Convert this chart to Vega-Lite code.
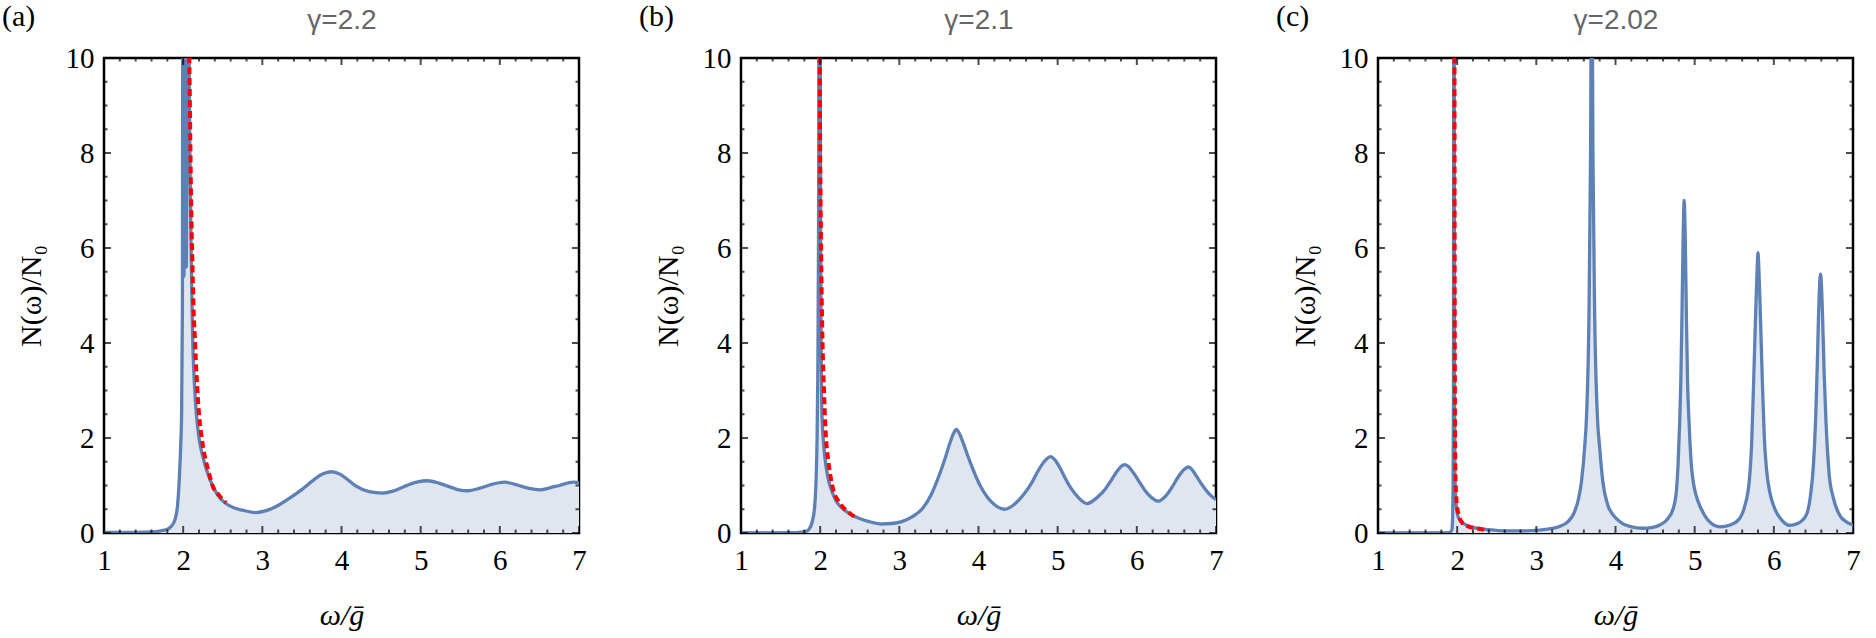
{
  "$schema": "https://vega.github.io/schema/vega-lite/v6.json",
  "background": "white",
  "padding": {"left": 0, "top": 0, "right": 10, "bottom": 0},
  "spacing": 162,
  "bounds": "flush",
  "config": {
    "view": {"stroke": "black", "strokeWidth": 2.5},
    "axis": {
      "domain": false,
      "grid": false,
      "ticks": true,
      "tickOpacity": 0,
      "offset": -7,
      "tickSize": 7,
      "labelFont": "Liberation Serif",
      "labelFontSize": 29,
      "labelColor": "black",
      "labelFlush": false,
      "labelOverlap": false,
      "titleFont": "Liberation Serif",
      "titleFontSize": 30,
      "titleFontWeight": "normal",
      "titleColor": "black"
    },
    "tick": {"color": "black", "thickness": 2, "clip": false},
    "title": {"font": "Liberation Serif", "fontSize": 30, "fontWeight": "normal", "color": "black", "anchor": "start", "frame": "group", "dx": -102, "dy": 30}
  },
  "datasets": {
    "xMaj": [{"t": 1}, {"t": 2}, {"t": 3}, {"t": 4}, {"t": 5}, {"t": 6}, {"t": 7}],
    "xMin": [
      {"t": 1.2}, {"t": 1.4}, {"t": 1.6}, {"t": 1.8}, {"t": 2.2}, {"t": 2.4}, {"t": 2.6}, {"t": 2.8},
      {"t": 3.2}, {"t": 3.4}, {"t": 3.6}, {"t": 3.8}, {"t": 4.2}, {"t": 4.4}, {"t": 4.6}, {"t": 4.8},
      {"t": 5.2}, {"t": 5.4}, {"t": 5.6}, {"t": 5.8}, {"t": 6.2}, {"t": 6.4}, {"t": 6.6}, {"t": 6.8}
    ],
    "yMaj": [{"t": 0}, {"t": 2}, {"t": 4}, {"t": 6}, {"t": 8}, {"t": 10}],
    "yMin": [
      {"t": 0.5}, {"t": 1}, {"t": 1.5}, {"t": 2.5}, {"t": 3}, {"t": 3.5}, {"t": 4.5}, {"t": 5},
      {"t": 5.5}, {"t": 6.5}, {"t": 7}, {"t": 7.5}, {"t": 8.5}, {"t": 9}, {"t": 9.5}
    ],
    "aBlue": [
      {"w": 1.0, "n": 0.01}, {"w": 1.3, "n": 0.012}, {"w": 1.5, "n": 0.018}, {"w": 1.6, "n": 0.024}, {"w": 1.7, "n": 0.04},
      {"w": 1.75, "n": 0.055}, {"w": 1.8, "n": 0.08}, {"w": 1.85, "n": 0.14}, {"w": 1.9, "n": 0.3}, {"w": 1.93, "n": 0.6},
      {"w": 1.95, "n": 1.1}, {"w": 1.97, "n": 1.9}, {"w": 1.98, "n": 2.5}, {"w": 1.99, "n": 4.6}, {"w": 1.995, "n": 10.5},
      {"w": 2.01, "n": 5.4}, {"w": 2.025, "n": 10.5}, {"w": 2.04, "n": 5.6}, {"w": 2.055, "n": 10.5}, {"w": 2.07, "n": 10.5},
      {"w": 2.085, "n": 8}, {"w": 2.1, "n": 6}, {"w": 2.11, "n": 5.0}, {"w": 2.12, "n": 4.1}, {"w": 2.14, "n": 3.2},
      {"w": 2.17, "n": 2.45}, {"w": 2.2, "n": 2.0}, {"w": 2.25, "n": 1.6}, {"w": 2.29, "n": 1.36}, {"w": 2.35, "n": 1.08},
      {"w": 2.41, "n": 0.87}, {"w": 2.47, "n": 0.73}, {"w": 2.54, "n": 0.62}, {"w": 2.64, "n": 0.53}, {"w": 2.75, "n": 0.48},
      {"w": 2.92, "n": 0.43}, {"w": 3.05, "n": 0.47}, {"w": 3.21, "n": 0.59}, {"w": 3.35, "n": 0.74}, {"w": 3.51, "n": 0.93},
      {"w": 3.65, "n": 1.12}, {"w": 3.76, "n": 1.24}, {"w": 3.87, "n": 1.29}, {"w": 3.98, "n": 1.24}, {"w": 4.08, "n": 1.12},
      {"w": 4.18, "n": 0.99}, {"w": 4.35, "n": 0.87}, {"w": 4.52, "n": 0.84}, {"w": 4.65, "n": 0.88}, {"w": 4.78, "n": 0.97},
      {"w": 4.95, "n": 1.07}, {"w": 5.09, "n": 1.1}, {"w": 5.23, "n": 1.05}, {"w": 5.37, "n": 0.97}, {"w": 5.48, "n": 0.91},
      {"w": 5.6, "n": 0.89}, {"w": 5.74, "n": 0.94}, {"w": 5.87, "n": 1.01}, {"w": 6.06, "n": 1.07}, {"w": 6.18, "n": 1.03},
      {"w": 6.3, "n": 0.97}, {"w": 6.51, "n": 0.91}, {"w": 6.63, "n": 0.95}, {"w": 6.75, "n": 1.0}, {"w": 6.93, "n": 1.07},
      {"w": 7.0, "n": 1.06}
    ],
    "aRed": [
      {"w": 2.073, "n": 10.5}, {"w": 2.085, "n": 9}, {"w": 2.1, "n": 7}, {"w": 2.115, "n": 5.8}, {"w": 2.13, "n": 4.8},
      {"w": 2.15, "n": 4.0}, {"w": 2.17, "n": 3.3}, {"w": 2.2, "n": 2.5}, {"w": 2.235, "n": 2.0}, {"w": 2.27, "n": 1.64},
      {"w": 2.32, "n": 1.3}, {"w": 2.37, "n": 1.0}, {"w": 2.45, "n": 0.8}, {"w": 2.54, "n": 0.64}
    ],
    "bBlue": [
      {"w": 1.0, "n": 0.0}, {"w": 1.4, "n": 0.003}, {"w": 1.6, "n": 0.006}, {"w": 1.7, "n": 0.01}, {"w": 1.81, "n": 0.03},
      {"w": 1.86, "n": 0.08}, {"w": 1.9, "n": 0.24}, {"w": 1.93, "n": 0.55}, {"w": 1.95, "n": 1.2}, {"w": 1.96, "n": 1.9},
      {"w": 1.97, "n": 3.3}, {"w": 1.98, "n": 6.5}, {"w": 1.985, "n": 10.5}, {"w": 2.0, "n": 10.5}, {"w": 2.005, "n": 6.5},
      {"w": 2.012, "n": 4.0}, {"w": 2.02, "n": 2.63}, {"w": 2.04, "n": 1.95}, {"w": 2.06, "n": 1.58}, {"w": 2.1, "n": 1.15},
      {"w": 2.15, "n": 0.87}, {"w": 2.2, "n": 0.68}, {"w": 2.28, "n": 0.52}, {"w": 2.38, "n": 0.4}, {"w": 2.49, "n": 0.31},
      {"w": 2.62, "n": 0.24}, {"w": 2.78, "n": 0.19}, {"w": 2.9, "n": 0.2}, {"w": 3.03, "n": 0.24}, {"w": 3.15, "n": 0.33},
      {"w": 3.3, "n": 0.53}, {"w": 3.4, "n": 0.8}, {"w": 3.5, "n": 1.2}, {"w": 3.58, "n": 1.58}, {"w": 3.64, "n": 1.9},
      {"w": 3.68, "n": 2.08}, {"w": 3.72, "n": 2.18}, {"w": 3.76, "n": 2.09}, {"w": 3.81, "n": 1.88}, {"w": 3.87, "n": 1.6},
      {"w": 3.94, "n": 1.3}, {"w": 4.02, "n": 1.0}, {"w": 4.11, "n": 0.76}, {"w": 4.2, "n": 0.6}, {"w": 4.33, "n": 0.5},
      {"w": 4.45, "n": 0.6}, {"w": 4.57, "n": 0.81}, {"w": 4.67, "n": 1.05}, {"w": 4.75, "n": 1.3}, {"w": 4.81, "n": 1.46},
      {"w": 4.86, "n": 1.56}, {"w": 4.91, "n": 1.61}, {"w": 4.96, "n": 1.55}, {"w": 5.02, "n": 1.4}, {"w": 5.09, "n": 1.17},
      {"w": 5.17, "n": 0.94}, {"w": 5.26, "n": 0.75}, {"w": 5.37, "n": 0.62}, {"w": 5.5, "n": 0.75}, {"w": 5.6, "n": 0.92},
      {"w": 5.68, "n": 1.12}, {"w": 5.75, "n": 1.3}, {"w": 5.8, "n": 1.4}, {"w": 5.85, "n": 1.44}, {"w": 5.9, "n": 1.39},
      {"w": 5.96, "n": 1.26}, {"w": 6.03, "n": 1.08}, {"w": 6.11, "n": 0.88}, {"w": 6.19, "n": 0.74}, {"w": 6.27, "n": 0.67},
      {"w": 6.36, "n": 0.77}, {"w": 6.45, "n": 0.98}, {"w": 6.53, "n": 1.2}, {"w": 6.6, "n": 1.34}, {"w": 6.65, "n": 1.39},
      {"w": 6.7, "n": 1.33}, {"w": 6.76, "n": 1.18}, {"w": 6.83, "n": 1.0}, {"w": 6.91, "n": 0.83}, {"w": 7.0, "n": 0.7}
    ],
    "bRed": [
      {"w": 1.993, "n": 10.5}, {"w": 2.0, "n": 8}, {"w": 2.01, "n": 6.2}, {"w": 2.02, "n": 4.9}, {"w": 2.03, "n": 4.0},
      {"w": 2.05, "n": 2.9}, {"w": 2.07, "n": 2.1}, {"w": 2.1, "n": 1.55}, {"w": 2.13, "n": 1.2}, {"w": 2.17, "n": 0.88},
      {"w": 2.22, "n": 0.7}, {"w": 2.28, "n": 0.56}, {"w": 2.37, "n": 0.42}, {"w": 2.47, "n": 0.3}
    ],
    "cBlue": [
      {"w": 1.0, "n": 0.0}, {"w": 1.8, "n": 0.002}, {"w": 1.9, "n": 0.01}, {"w": 1.93, "n": 0.05}, {"w": 1.94, "n": 0.2},
      {"w": 1.948, "n": 1.0}, {"w": 1.953, "n": 3}, {"w": 1.957, "n": 10.5}, {"w": 1.963, "n": 10.5}, {"w": 1.967, "n": 3},
      {"w": 1.972, "n": 1.2}, {"w": 1.98, "n": 0.75}, {"w": 1.99, "n": 0.55}, {"w": 2.0, "n": 0.42}, {"w": 2.03, "n": 0.28},
      {"w": 2.08, "n": 0.2}, {"w": 2.2, "n": 0.12}, {"w": 2.4, "n": 0.07}, {"w": 2.62, "n": 0.045}, {"w": 2.85, "n": 0.045},
      {"w": 3.04, "n": 0.06}, {"w": 3.18, "n": 0.09}, {"w": 3.3, "n": 0.14}, {"w": 3.4, "n": 0.24}, {"w": 3.47, "n": 0.4},
      {"w": 3.53, "n": 0.7}, {"w": 3.57, "n": 1.08}, {"w": 3.61, "n": 1.8}, {"w": 3.635, "n": 2.5}, {"w": 3.665, "n": 4.6},
      {"w": 3.685, "n": 8}, {"w": 3.7, "n": 13}, {"w": 3.715, "n": 8}, {"w": 3.737, "n": 4.6}, {"w": 3.77, "n": 2.5},
      {"w": 3.8, "n": 1.8}, {"w": 3.84, "n": 1.08}, {"w": 3.9, "n": 0.6}, {"w": 3.97, "n": 0.38}, {"w": 4.07, "n": 0.22},
      {"w": 4.18, "n": 0.14}, {"w": 4.35, "n": 0.1}, {"w": 4.47, "n": 0.12}, {"w": 4.56, "n": 0.17}, {"w": 4.65, "n": 0.28},
      {"w": 4.73, "n": 0.52}, {"w": 4.77, "n": 0.9}, {"w": 4.79, "n": 1.43}, {"w": 4.81, "n": 2.3}, {"w": 4.825, "n": 3.19},
      {"w": 4.84, "n": 4.6}, {"w": 4.855, "n": 6.3}, {"w": 4.867, "n": 7.0}, {"w": 4.88, "n": 6.3}, {"w": 4.895, "n": 4.6},
      {"w": 4.91, "n": 3.19}, {"w": 4.93, "n": 2.3}, {"w": 4.955, "n": 1.5}, {"w": 4.98, "n": 1.1}, {"w": 5.02, "n": 0.78},
      {"w": 5.08, "n": 0.52}, {"w": 5.18, "n": 0.25}, {"w": 5.32, "n": 0.13}, {"w": 5.45, "n": 0.17}, {"w": 5.57, "n": 0.31},
      {"w": 5.63, "n": 0.55}, {"w": 5.69, "n": 1.1}, {"w": 5.72, "n": 1.9}, {"w": 5.745, "n": 3.19}, {"w": 5.77, "n": 4.6},
      {"w": 5.79, "n": 5.6}, {"w": 5.8, "n": 5.9}, {"w": 5.81, "n": 5.6}, {"w": 5.83, "n": 4.6}, {"w": 5.855, "n": 3.19},
      {"w": 5.88, "n": 2.0}, {"w": 5.91, "n": 1.3}, {"w": 5.95, "n": 0.85}, {"w": 6.01, "n": 0.52}, {"w": 6.1, "n": 0.27},
      {"w": 6.2, "n": 0.16}, {"w": 6.3, "n": 0.2}, {"w": 6.41, "n": 0.38}, {"w": 6.46, "n": 0.75}, {"w": 6.5, "n": 1.43},
      {"w": 6.53, "n": 2.5}, {"w": 6.55, "n": 3.6}, {"w": 6.565, "n": 4.6}, {"w": 6.59, "n": 5.45}, {"w": 6.615, "n": 4.6},
      {"w": 6.635, "n": 3.4}, {"w": 6.66, "n": 2.3}, {"w": 6.7, "n": 1.22}, {"w": 6.75, "n": 0.75}, {"w": 6.83, "n": 0.38},
      {"w": 6.92, "n": 0.23}, {"w": 7.0, "n": 0.17}
    ],
    "cRed": [
      {"w": 1.966, "n": 10.5}, {"w": 1.968, "n": 6}, {"w": 1.971, "n": 3}, {"w": 1.975, "n": 1.5}, {"w": 1.985, "n": 0.85},
      {"w": 1.995, "n": 0.62}, {"w": 2.02, "n": 0.38}, {"w": 2.07, "n": 0.2}, {"w": 2.15, "n": 0.13}, {"w": 2.24, "n": 0.1},
      {"w": 2.39, "n": 0.05}
    ]
  },
  "hconcat": [
    {
      "width": 475, "height": 475,
      "title": {"text": "(a)"},
      "resolve": {"axis": {"x": "independent", "y": "independent"}},
      "layer": [
        {
          "data": {"name": "aBlue"},
          "mark": {"type": "area", "color": "#dfe6f0", "interpolate": "monotone", "clip": true},
          "encoding": {
            "x": {"field": "w", "type": "quantitative", "scale": {"domain": [1, 7], "nice": false, "zero": false},
              "axis": {"orient": "bottom", "values": [1, 2, 3, 4, 5, 6, 7], "labelPadding": 13, "title": "ω/ḡ", "titleFontStyle": "italic", "titlePadding": 25}},
            "y": {"field": "n", "type": "quantitative", "scale": {"domain": [0, 10], "nice": false},
              "axis": {"orient": "left", "values": [0, 2, 4, 6, 8, 10], "labelPadding": 10, "title": "N(ω)/N₀", "titlePadding": 19}}
          }
        },
        {
          "data": {"name": "aBlue"},
          "mark": {"type": "line", "color": "#5e81b5", "strokeWidth": 3.3, "interpolate": "monotone", "clip": true},
          "encoding": {
            "x": {"field": "w", "type": "quantitative", "axis": {"orient": "top", "values": [1, 7], "labels": false, "title": "γ=2.2", "titleFont": "Liberation Sans", "titleFontSize": 28, "titleColor": "#666666", "titlePadding": 24}},
            "y": {"field": "n", "type": "quantitative", "axis": null}
          }
        },
        {
          "data": {"name": "aRed"},
          "mark": {"type": "line", "color": "#ff0000", "strokeWidth": 4, "strokeDash": [7, 4], "interpolate": "monotone", "clip": true},
          "encoding": {"x": {"field": "w", "type": "quantitative", "axis": null}, "y": {"field": "n", "type": "quantitative", "axis": null}}
        },
        {"data": {"name": "xMaj"}, "mark": {"type": "tick", "orient": "vertical", "size": 7, "yOffset": -3.5},
          "encoding": {"x": {"field": "t", "type": "quantitative", "axis": null}, "y": {"datum": 0, "type": "quantitative", "axis": null}}},
        {"data": {"name": "xMin"}, "mark": {"type": "tick", "orient": "vertical", "size": 3.5, "yOffset": -1.75},
          "encoding": {"x": {"field": "t", "type": "quantitative", "axis": null}, "y": {"datum": 0, "type": "quantitative", "axis": null}}},
        {"data": {"name": "xMaj"}, "mark": {"type": "tick", "orient": "vertical", "size": 7, "yOffset": 3.5},
          "encoding": {"x": {"field": "t", "type": "quantitative", "axis": null}, "y": {"datum": 10, "type": "quantitative", "axis": null}}},
        {"data": {"name": "xMin"}, "mark": {"type": "tick", "orient": "vertical", "size": 3.5, "yOffset": 1.75},
          "encoding": {"x": {"field": "t", "type": "quantitative", "axis": null}, "y": {"datum": 10, "type": "quantitative", "axis": null}}},
        {"data": {"name": "yMaj"}, "mark": {"type": "tick", "orient": "horizontal", "size": 7, "xOffset": 3.5},
          "encoding": {"y": {"field": "t", "type": "quantitative", "axis": null}, "x": {"datum": 1, "type": "quantitative", "axis": null}}},
        {"data": {"name": "yMin"}, "mark": {"type": "tick", "orient": "horizontal", "size": 3.5, "xOffset": 1.75},
          "encoding": {"y": {"field": "t", "type": "quantitative", "axis": null}, "x": {"datum": 1, "type": "quantitative", "axis": null}}},
        {"data": {"name": "yMaj"}, "mark": {"type": "tick", "orient": "horizontal", "size": 7, "xOffset": -3.5},
          "encoding": {"y": {"field": "t", "type": "quantitative", "axis": null}, "x": {"datum": 7, "type": "quantitative", "axis": null}}},
        {"data": {"name": "yMin"}, "mark": {"type": "tick", "orient": "horizontal", "size": 3.5, "xOffset": -1.75},
          "encoding": {"y": {"field": "t", "type": "quantitative", "axis": null}, "x": {"datum": 7, "type": "quantitative", "axis": null}}}
      ]
    },
    {
      "width": 475, "height": 475,
      "title": {"text": "(b)"},
      "resolve": {"axis": {"x": "independent", "y": "independent"}},
      "layer": [
        {
          "data": {"name": "bBlue"},
          "mark": {"type": "area", "color": "#dfe6f0", "interpolate": "monotone", "clip": true},
          "encoding": {
            "x": {"field": "w", "type": "quantitative", "scale": {"domain": [1, 7], "nice": false, "zero": false},
              "axis": {"orient": "bottom", "values": [1, 2, 3, 4, 5, 6, 7], "labelPadding": 13, "title": "ω/ḡ", "titleFontStyle": "italic", "titlePadding": 25}},
            "y": {"field": "n", "type": "quantitative", "scale": {"domain": [0, 10], "nice": false},
              "axis": {"orient": "left", "values": [0, 2, 4, 6, 8, 10], "labelPadding": 10, "title": "N(ω)/N₀", "titlePadding": 19}}
          }
        },
        {
          "data": {"name": "bBlue"},
          "mark": {"type": "line", "color": "#5e81b5", "strokeWidth": 3.3, "interpolate": "monotone", "clip": true},
          "encoding": {
            "x": {"field": "w", "type": "quantitative", "axis": {"orient": "top", "values": [1, 7], "labels": false, "title": "γ=2.1", "titleFont": "Liberation Sans", "titleFontSize": 28, "titleColor": "#666666", "titlePadding": 24}},
            "y": {"field": "n", "type": "quantitative", "axis": null}
          }
        },
        {
          "data": {"name": "bRed"},
          "mark": {"type": "line", "color": "#ff0000", "strokeWidth": 4, "strokeDash": [7, 4], "interpolate": "monotone", "clip": true},
          "encoding": {"x": {"field": "w", "type": "quantitative", "axis": null}, "y": {"field": "n", "type": "quantitative", "axis": null}}
        },
        {"data": {"name": "xMaj"}, "mark": {"type": "tick", "orient": "vertical", "size": 7, "yOffset": -3.5},
          "encoding": {"x": {"field": "t", "type": "quantitative", "axis": null}, "y": {"datum": 0, "type": "quantitative", "axis": null}}},
        {"data": {"name": "xMin"}, "mark": {"type": "tick", "orient": "vertical", "size": 3.5, "yOffset": -1.75},
          "encoding": {"x": {"field": "t", "type": "quantitative", "axis": null}, "y": {"datum": 0, "type": "quantitative", "axis": null}}},
        {"data": {"name": "xMaj"}, "mark": {"type": "tick", "orient": "vertical", "size": 7, "yOffset": 3.5},
          "encoding": {"x": {"field": "t", "type": "quantitative", "axis": null}, "y": {"datum": 10, "type": "quantitative", "axis": null}}},
        {"data": {"name": "xMin"}, "mark": {"type": "tick", "orient": "vertical", "size": 3.5, "yOffset": 1.75},
          "encoding": {"x": {"field": "t", "type": "quantitative", "axis": null}, "y": {"datum": 10, "type": "quantitative", "axis": null}}},
        {"data": {"name": "yMaj"}, "mark": {"type": "tick", "orient": "horizontal", "size": 7, "xOffset": 3.5},
          "encoding": {"y": {"field": "t", "type": "quantitative", "axis": null}, "x": {"datum": 1, "type": "quantitative", "axis": null}}},
        {"data": {"name": "yMin"}, "mark": {"type": "tick", "orient": "horizontal", "size": 3.5, "xOffset": 1.75},
          "encoding": {"y": {"field": "t", "type": "quantitative", "axis": null}, "x": {"datum": 1, "type": "quantitative", "axis": null}}},
        {"data": {"name": "yMaj"}, "mark": {"type": "tick", "orient": "horizontal", "size": 7, "xOffset": -3.5},
          "encoding": {"y": {"field": "t", "type": "quantitative", "axis": null}, "x": {"datum": 7, "type": "quantitative", "axis": null}}},
        {"data": {"name": "yMin"}, "mark": {"type": "tick", "orient": "horizontal", "size": 3.5, "xOffset": -1.75},
          "encoding": {"y": {"field": "t", "type": "quantitative", "axis": null}, "x": {"datum": 7, "type": "quantitative", "axis": null}}}
      ]
    },
    {
      "width": 475, "height": 475,
      "title": {"text": "(c)"},
      "resolve": {"axis": {"x": "independent", "y": "independent"}},
      "layer": [
        {
          "data": {"name": "cBlue"},
          "mark": {"type": "area", "color": "#dfe6f0", "interpolate": "monotone", "clip": true},
          "encoding": {
            "x": {"field": "w", "type": "quantitative", "scale": {"domain": [1, 7], "nice": false, "zero": false},
              "axis": {"orient": "bottom", "values": [1, 2, 3, 4, 5, 6, 7], "labelPadding": 13, "title": "ω/ḡ", "titleFontStyle": "italic", "titlePadding": 25}},
            "y": {"field": "n", "type": "quantitative", "scale": {"domain": [0, 10], "nice": false},
              "axis": {"orient": "left", "values": [0, 2, 4, 6, 8, 10], "labelPadding": 10, "title": "N(ω)/N₀", "titlePadding": 19}}
          }
        },
        {
          "data": {"name": "cBlue"},
          "mark": {"type": "line", "color": "#5e81b5", "strokeWidth": 3.3, "interpolate": "monotone", "clip": true},
          "encoding": {
            "x": {"field": "w", "type": "quantitative", "axis": {"orient": "top", "values": [1, 7], "labels": false, "title": "γ=2.02", "titleFont": "Liberation Sans", "titleFontSize": 28, "titleColor": "#666666", "titlePadding": 24}},
            "y": {"field": "n", "type": "quantitative", "axis": null}
          }
        },
        {
          "data": {"name": "cRed"},
          "mark": {"type": "line", "color": "#ff0000", "strokeWidth": 4, "strokeDash": [7, 4], "interpolate": "monotone", "clip": true},
          "encoding": {"x": {"field": "w", "type": "quantitative", "axis": null}, "y": {"field": "n", "type": "quantitative", "axis": null}}
        },
        {"data": {"name": "xMaj"}, "mark": {"type": "tick", "orient": "vertical", "size": 7, "yOffset": -3.5},
          "encoding": {"x": {"field": "t", "type": "quantitative", "axis": null}, "y": {"datum": 0, "type": "quantitative", "axis": null}}},
        {"data": {"name": "xMin"}, "mark": {"type": "tick", "orient": "vertical", "size": 3.5, "yOffset": -1.75},
          "encoding": {"x": {"field": "t", "type": "quantitative", "axis": null}, "y": {"datum": 0, "type": "quantitative", "axis": null}}},
        {"data": {"name": "xMaj"}, "mark": {"type": "tick", "orient": "vertical", "size": 7, "yOffset": 3.5},
          "encoding": {"x": {"field": "t", "type": "quantitative", "axis": null}, "y": {"datum": 10, "type": "quantitative", "axis": null}}},
        {"data": {"name": "xMin"}, "mark": {"type": "tick", "orient": "vertical", "size": 3.5, "yOffset": 1.75},
          "encoding": {"x": {"field": "t", "type": "quantitative", "axis": null}, "y": {"datum": 10, "type": "quantitative", "axis": null}}},
        {"data": {"name": "yMaj"}, "mark": {"type": "tick", "orient": "horizontal", "size": 7, "xOffset": 3.5},
          "encoding": {"y": {"field": "t", "type": "quantitative", "axis": null}, "x": {"datum": 1, "type": "quantitative", "axis": null}}},
        {"data": {"name": "yMin"}, "mark": {"type": "tick", "orient": "horizontal", "size": 3.5, "xOffset": 1.75},
          "encoding": {"y": {"field": "t", "type": "quantitative", "axis": null}, "x": {"datum": 1, "type": "quantitative", "axis": null}}},
        {"data": {"name": "yMaj"}, "mark": {"type": "tick", "orient": "horizontal", "size": 7, "xOffset": -3.5},
          "encoding": {"y": {"field": "t", "type": "quantitative", "axis": null}, "x": {"datum": 7, "type": "quantitative", "axis": null}}},
        {"data": {"name": "yMin"}, "mark": {"type": "tick", "orient": "horizontal", "size": 3.5, "xOffset": -1.75},
          "encoding": {"y": {"field": "t", "type": "quantitative", "axis": null}, "x": {"datum": 7, "type": "quantitative", "axis": null}}}
      ]
    }
  ]
}
